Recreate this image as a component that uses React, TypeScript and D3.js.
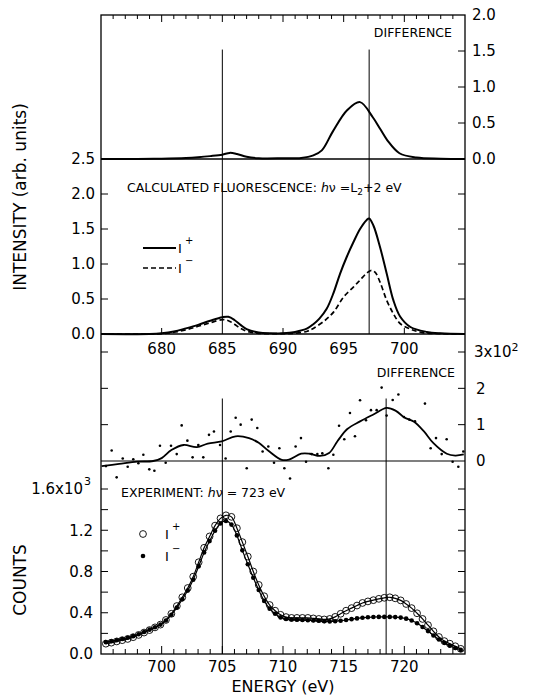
import React from 'react';
import * as d3 from 'd3';

// ---- Calculated fluorescence (upper two panels) ----
const calcDiffE = [675, 678, 680, 682, 683, 684, 685, 685.6, 686.2, 687, 688, 690, 691.5, 692.5, 693.2, 694.1, 695.3, 696.35, 697.4, 698.0, 698.6, 699.6, 701, 703, 705];
const calcDiffV = [0, 0, 0.005, 0.015, 0.025, 0.04, 0.06, 0.085, 0.07, 0.03, 0.01, 0.01, 0.015, 0.05, 0.12, 0.38, 0.68, 0.79, 0.58, 0.42, 0.26, 0.08, 0.02, 0.005, 0];

const calcPlusE = [675, 679, 680, 681, 682, 683, 684, 685, 685.5, 686, 686.5, 687, 688, 689, 690, 691, 692, 692.5, 693, 693.6, 694.15, 694.7, 695.25, 695.8, 696.35, 696.9, 697.1, 697.45, 698, 698.55, 699.1, 699.65, 700.5, 701.85, 703, 705];
const calcPlusV = [0, 0, 0.01, 0.035, 0.08, 0.13, 0.19, 0.24, 0.245, 0.2, 0.13, 0.07, 0.02, 0.01, 0.01, 0.03, 0.08, 0.14, 0.22, 0.36, 0.58, 0.86, 1.1, 1.31, 1.5, 1.63, 1.65, 1.55, 1.24, 0.86, 0.48, 0.25, 0.1, 0.03, 0.01, 0];

const calcMinusE = [675, 679, 680, 681, 682, 683, 684, 685, 685.5, 686, 686.5, 687, 688, 690, 691, 692, 692.5, 693.5, 694.2, 695, 695.8, 696.35, 696.9, 697.3, 697.6, 698, 698.55, 699.1, 699.65, 700.5, 701.5, 703, 705];
const calcMinusV = [0, 0, 0.005, 0.025, 0.06, 0.11, 0.16, 0.205, 0.19, 0.14, 0.08, 0.04, 0.01, 0.005, 0.01, 0.04, 0.08, 0.2, 0.32, 0.53, 0.67, 0.77, 0.87, 0.91, 0.88, 0.74, 0.48, 0.29, 0.15, 0.07, 0.02, 0.005, 0];

// ---- Experiment (lower two panels) ----
const expE = [695.40, 695.85, 696.30, 696.75, 697.20, 697.65, 698.10, 698.55, 699.00, 699.45, 699.90, 700.35, 700.80, 701.25, 701.70, 702.15, 702.60, 703.05, 703.50, 703.95, 704.40, 704.85, 705.30, 705.75, 706.20, 706.65, 707.10, 707.55, 708.00, 708.45, 708.90, 709.35, 709.80, 710.25, 710.70, 711.15, 711.60, 712.05, 712.50, 712.95, 713.40, 713.85, 714.30, 714.75, 715.20, 715.65, 716.10, 716.55, 717.00, 717.45, 717.90, 718.35, 718.80, 719.25, 719.70, 720.15, 720.60, 721.05, 721.50, 721.95, 722.40, 722.85, 723.30, 723.75, 724.20, 724.65];
const expPlus = [0.100, 0.110, 0.122, 0.134, 0.146, 0.163, 0.185, 0.208, 0.232, 0.258, 0.285, 0.330, 0.390, 0.465, 0.550, 0.640, 0.750, 0.890, 1.030, 1.140, 1.245, 1.315, 1.345, 1.330, 1.220, 1.085, 0.945, 0.800, 0.670, 0.560, 0.475, 0.420, 0.380, 0.358, 0.350, 0.350, 0.350, 0.350, 0.345, 0.340, 0.335, 0.340, 0.360, 0.390, 0.420, 0.445, 0.470, 0.495, 0.510, 0.522, 0.535, 0.545, 0.550, 0.540, 0.520, 0.485, 0.445, 0.395, 0.340, 0.280, 0.220, 0.165, 0.125, 0.100, 0.075, 0.050];
const expMinus = [0.115, 0.124, 0.134, 0.145, 0.158, 0.173, 0.192, 0.213, 0.236, 0.260, 0.285, 0.325, 0.380, 0.450, 0.530, 0.615, 0.720, 0.850, 0.985, 1.095, 1.195, 1.265, 1.290, 1.255, 1.150, 1.005, 0.870, 0.740, 0.620, 0.515, 0.440, 0.390, 0.355, 0.340, 0.335, 0.333, 0.330, 0.328, 0.325, 0.322, 0.318, 0.316, 0.318, 0.323, 0.330, 0.338, 0.345, 0.352, 0.356, 0.359, 0.360, 0.360, 0.360, 0.358, 0.353, 0.343, 0.325, 0.298, 0.262, 0.222, 0.180, 0.140, 0.108, 0.080, 0.058, 0.040];

const diffDotE = [695.41, 695.88, 696.29, 696.79, 697.20, 697.66, 698.08, 698.49, 698.98, 699.40, 699.86, 700.33, 700.77, 701.24, 701.65, 702.12, 702.55, 703.02, 703.43, 703.90, 704.31, 704.81, 705.27, 705.69, 706.10, 706.51, 707.01, 707.42, 707.88, 708.32, 708.79, 709.26, 709.70, 710.11, 710.58, 711.04, 711.48, 711.90, 712.36, 712.83, 713.24, 713.74, 714.15, 714.62, 715.05, 715.52, 715.93, 716.35, 716.84, 717.25, 717.72, 718.13, 718.54, 719.04, 719.51, 719.97, 720.41, 720.88, 721.70, 722.17, 722.61, 723.08, 723.49, 723.98, 724.45, 724.86];
const diffDotV = [-0.14, 0.29, -0.45, 0.07, -0.16, 0.05, -0.06, 0.17, -0.23, -0.27, 0.42, -0.05, 0.42, 0.19, 0.98, 0.56, 0.10, 0.44, 0.10, 0.72, 0.81, 0.44, 0.07, 0.81, 1.19, 1.00, -0.20, 1.14, 0.91, 0.26, 0.40, -0.05, 0.35, -0.20, -0.48, 0.40, 0.63, -0.02, 0.19, 0.19, 0.21, -0.20, 0.17, 0.97, 0.60, 1.32, 0.68, 1.67, 1.12, 1.40, 1.40, 2.02, 1.25, 1.68, 1.83, 1.21, 1.14, 1.09, 1.58, 0.35, 0.63, 0.19, 0.60, -0.02, -0.16, 0.26];

const diffCurveE = [695.05, 696.5, 698, 699.3, 700, 700.8, 701.8, 702.9, 703.8, 704.95, 706.1, 707.2, 708, 708.8, 709.9, 710.5, 711.5, 712.2, 713.05, 713.8, 714.5, 715.3, 716.35, 717.45, 718.55, 719.3, 720.0, 720.8, 721.6, 722.4, 723.5, 724.2, 724.9];
const diffCurveV = [-0.14, -0.08, -0.02, 0.0, 0.08, 0.3, 0.44, 0.38, 0.48, 0.54, 0.68, 0.63, 0.5, 0.28, 0.03, 0.04, 0.2, 0.2, 0.14, 0.22, 0.55, 0.88, 1.09, 1.28, 1.46, 1.38, 1.2, 1.08, 0.82, 0.49, 0.2, 0.15, 0.18];

const calcTickLabels = [680, 685, 690, 695, 700];
const expTickLabels = [700, 705, 710, 715, 720];
const topRightLabels = [0, 0.5, 1, 1.5, 2];
const midLeftLabels = [0, 0.5, 1, 1.5, 2, 2.5];
const diffRightLabels = [0, 1, 2];
const botLeftLabels = [0, 0.4, 0.8, 1.2];
const calcMarkers = [685, 697.1];
const expMarkers = [705, 718.5];

const FONT = 'DejaVu Sans, Liberation Sans, sans-serif';

export default function App() {
  const L = 101, R = 465;
  const xCalc = d3.scaleLinear().domain([675, 705]).range([L, R]);
  const xExp = d3.scaleLinear().domain([695, 725]).range([L, R]);
  const yTop = d3.scaleLinear().domain([0, 2]).range([159, 15]);
  const yMid = d3.scaleLinear().domain([0, 2.5]).range([334, 159]);
  const yDiff = d3.scaleLinear().domain([0, 3]).range([461, 352]);
  const yBot = d3.scaleLinear().domain([0, 1.6]).range([654, 489]);
  const T = yTop(2), B = yBot(0);

  const mk = (xs: number[], ys: number[], sx: any, sy: any) =>
    d3.line<number>().x((_, i) => sx(xs[i])).y((d) => sy(d)).curve(d3.curveCatmullRom.alpha(0.5))(ys) || '';

  const ticks: any[] = [];
  let k = 0;
  const tk = (x1: number, y1: number, x2: number, y2: number) =>
    ticks.push(<line key={'t' + k++} x1={x1} y1={y1} x2={x2} y2={y2} stroke="#000" strokeWidth={1} />);

  d3.range(676, 705).forEach((e) => tk(xCalc(e), T, xCalc(e), T + (e % 5 === 0 ? 7 : 4)));
  d3.range(696, 725).forEach((e) => tk(xExp(e), B, xExp(e), B - (e % 5 === 0 ? 8 : 5)));
  [680, 690, 700].forEach((e) => tk(xCalc(e), yMid(0), xCalc(e), yMid(0) - 6));
  [0.5, 1, 1.5].forEach((v) => tk(R, yTop(v), R - 7, yTop(v)));
  [0.5, 1, 1.5, 2].forEach((v) => { tk(L, yMid(v), L + 7, yMid(v)); tk(R, yMid(v), R - 7, yMid(v)); });
  [1, 2, 3].forEach((v) => { tk(L, yDiff(v), L + 7, yDiff(v)); tk(R, yDiff(v), R - 7, yDiff(v)); });
  d3.range(1, 9).forEach((i) => { const v = i * 0.2; tk(L, yBot(v), L + 7, yBot(v)); tk(R, yBot(v), R - 7, yBot(v)); });

  const lab = { fontFamily: FONT, fontSize: 15, fill: '#000' } as const;
  const ann = { fontFamily: FONT, fontSize: 12.5, fill: '#000' } as const;

  return (
    <svg width={551} height={696} style={{ position: 'absolute', left: 0, top: 0, background: '#fff' }}>
      <rect x={0} y={0} width={551} height={696} fill="#fff" />
      <rect x={L} y={T} width={R - L} height={B - T} fill="none" stroke="#000" strokeWidth={1.3} />
      <line x1={L} x2={R} y1={yTop(0)} y2={yTop(0)} stroke="#000" strokeWidth={1.3} />
      <line x1={L} x2={R} y1={yMid(0)} y2={yMid(0)} stroke="#000" strokeWidth={1.3} />
      <line x1={L} x2={R} y1={yDiff(0)} y2={yDiff(0)} stroke="#000" strokeWidth={1.1} />
      {ticks}

      {calcMarkers.map((e) => (
        <line key={'cm' + e} x1={xCalc(e)} x2={xCalc(e)} y1={yTop(1.52)} y2={yMid(0)} stroke="#000" strokeWidth={1} />
      ))}
      {expMarkers.map((e) => (
        <line key={'em' + e} x1={xExp(e)} x2={xExp(e)} y1={yDiff(1.72)} y2={yBot(0)} stroke="#000" strokeWidth={1} />
      ))}

      <path d={mk(calcDiffE, calcDiffV, xCalc, yTop)} fill="none" stroke="#000" strokeWidth={2} />
      <path d={mk(calcPlusE, calcPlusV, xCalc, yMid)} fill="none" stroke="#000" strokeWidth={2} />
      <path d={mk(calcMinusE, calcMinusV, xCalc, yMid)} fill="none" stroke="#000" strokeWidth={1.7} strokeDasharray="5,3" />

      <path d={mk(diffCurveE, diffCurveV, xExp, yDiff)} fill="none" stroke="#000" strokeWidth={1.8} />
      {diffDotE.map((e, i) => (
        <circle key={'dd' + i} cx={xExp(e)} cy={yDiff(diffDotV[i])} r={1.3} fill="#000" />
      ))}

      <path d={mk(expE, expPlus, xExp, yBot)} fill="none" stroke="#000" strokeWidth={1.2} />
      <path d={mk(expE, expMinus, xExp, yBot)} fill="none" stroke="#000" strokeWidth={1.2} />
      {expE.map((e, i) => (
        <circle key={'ep' + i} cx={xExp(e)} cy={yBot(expPlus[i])} r={3.4} fill="none" stroke="#000" strokeWidth={0.9} />
      ))}
      {expE.map((e, i) => (
        <circle key={'en' + i} cx={xExp(e)} cy={yBot(expMinus[i])} r={2.3} fill="#000" />
      ))}

      {topRightLabels.map((v) => (
        <text key={'tr' + v} x={472} y={yTop(v)} dy="0.36em" {...lab}>{v.toFixed(1)}</text>
      ))}
      {midLeftLabels.map((v) => (
        <text key={'ml' + v} x={95} y={yMid(v)} dy="0.36em" textAnchor="end" {...lab}>{v.toFixed(1)}</text>
      ))}
      {calcTickLabels.map((e) => (
        <text key={'cl' + e} x={xCalc(e)} y={yMid(0) + 15} dy="0.36em" textAnchor="middle" {...lab}>{e}</text>
      ))}
      {diffRightLabels.map((v) => (
        <text key={'dr' + v} x={476} y={yDiff(v)} dy="0.36em" {...lab}>{v}</text>
      ))}
      <text x={474} y={yDiff(3)} dy="0.36em" {...lab}>3x10<tspan dy="-0.6em" fontSize={11}>2</tspan></text>
      {botLeftLabels.map((v) => (
        <text key={'bl' + v} x={93} y={yBot(v)} dy="0.36em" textAnchor="end" {...lab}>{v.toFixed(1)}</text>
      ))}
      <text x={83} y={yBot(1.6)} dy="0.36em" textAnchor="end" {...lab}>1.6x10</text>
      <text x={84} y={yBot(1.6) - 5} dy="0.1em" fontFamily={FONT} fontSize={11}>3</text>
      {expTickLabels.map((e) => (
        <text key={'xl' + e} x={xExp(e)} y={yBot(0) + 13} dy="0.36em" textAnchor="middle" {...lab}>{e}</text>
      ))}

      <text x={283} y={692} textAnchor="middle" fontFamily={FONT} fontSize={16}>ENERGY (eV)</text>
      <text transform={`translate(26,${197}) rotate(-90)`} textAnchor="middle" fontFamily={FONT} fontSize={17}>INTENSITY (arb. units)</text>
      <text transform={`translate(26,${580}) rotate(-90)`} textAnchor="middle" fontFamily={FONT} fontSize={17}>COUNTS</text>

      <text x={452} y={37} textAnchor="end" {...ann}>DIFFERENCE</text>
      <text x={455} y={377} textAnchor="end" {...ann}>DIFFERENCE</text>
      <text x={127} y={192} {...ann}>
        CALCULATED FLUORESCENCE:{'  '}<tspan fontStyle="italic">h</tspan>ν =L<tspan dy="3" fontSize={9}>2</tspan><tspan dy="-3">+2 eV</tspan>
      </text>
      <text x={121} y={497} {...ann}>
        EXPERIMENT: <tspan fontStyle="italic">h</tspan>ν = 723 eV
      </text>

      <line x1={143} x2={176} y1={248} y2={248} stroke="#000" strokeWidth={2} />
      <text x={178} y={253} fontFamily={FONT} fontSize={13}>I</text>
      <text x={185} y={244} fontFamily={FONT} fontSize={10}>+</text>
      <line x1={143} x2={176} y1={268} y2={268} stroke="#000" strokeWidth={1.7} strokeDasharray="5,3" />
      <text x={178} y={273} fontFamily={FONT} fontSize={13}>I</text>
      <text x={185} y={264} fontFamily={FONT} fontSize={10}>−</text>

      <circle cx={143} cy={534} r={3.4} fill="none" stroke="#000" strokeWidth={0.9} />
      <text x={165} y={539} fontFamily={FONT} fontSize={13}>I</text>
      <text x={172} y={530} fontFamily={FONT} fontSize={10}>+</text>
      <circle cx={143} cy={556} r={2.3} fill="#000" />
      <text x={165} y={561} fontFamily={FONT} fontSize={13}>I</text>
      <text x={172} y={552} fontFamily={FONT} fontSize={10}>−</text>
    </svg>
  );
}
